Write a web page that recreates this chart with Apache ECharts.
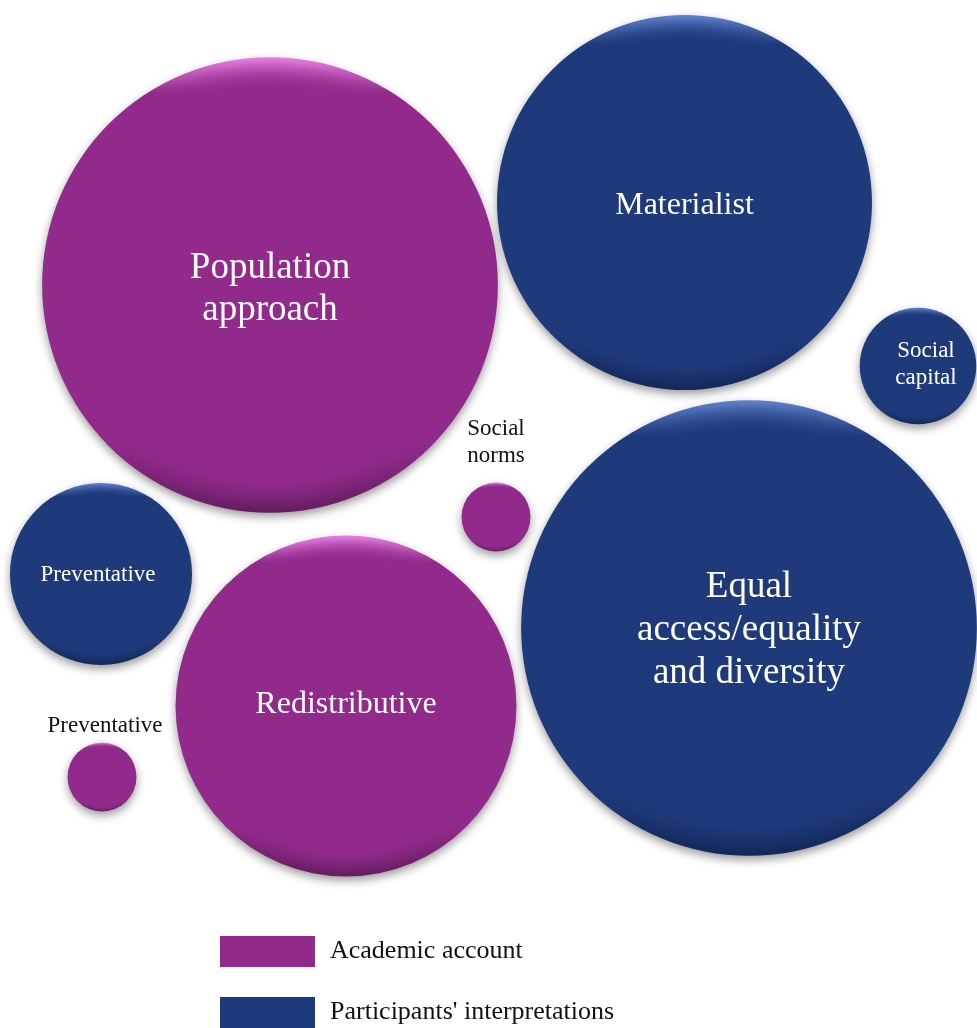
<!DOCTYPE html>
<html><head><meta charset="utf-8">
<script src="https://cdn.jsdelivr.net/npm/echarts@6/dist/echarts.min.js"></script>
<style>html,body{margin:0;padding:0;background:#fff}#c{width:977px;height:1028px}</style>
</head><body><div id="c"></div>
<script>
// Data (x, y in chart units; value = bubble area measure)
const academicNames = ['Population\napproach', 'Redistributive', 'Social\nnorms', 'Preventative'];
const academicX = [27.0, 34.6, 49.6, 10.2];
const academicY = [74.3, 32.2, 51.1, 25.1];
const academicValues = [52, 29.1, 1.19, 1.19];

const participantNames = ['Materialist', 'Equal\naccess/equality\nand diversity', 'Preventative', 'Social\ncapital'];
const participantX = [68.45, 74.9, 10.1, 91.8];
const participantY = [82.55, 40.0, 45.4, 66.2];
const participantValues = [35.2, 52, 8.3, 3.4];

const legendNames = ['Academic account', "Participants' interpretations"];

// Styles (kept separate from data)
const SERIF = 'Liberation Serif, Times New Roman, serif';
const academicLabelStyle = [
  {fontSize: 37, lineHeight: 42, color: '#fff', position: 'inside', offset: [0, 4]},
  {fontSize: 32, color: '#fff', position: 'inside', offset: [0, -1]},
  {fontSize: 23, lineHeight: 27, color: '#111', position: 'top', distance: 14},
  {fontSize: 23, color: '#111', position: 'top', distance: 6, offset: [3, 0]}
];
const participantLabelStyle = [
  {fontSize: 32, color: '#fff', position: 'inside', offset: [0, 3]},
  {fontSize: 37, lineHeight: 43, color: '#fff', position: 'inside', offset: [0, 2]},
  {fontSize: 23, color: '#fff', position: 'inside', offset: [-3, 1]},
  {fontSize: 23, lineHeight: 27, color: '#fff', position: 'inside', offset: [8, -2]}
];

const K = 63.2; // diameter per sqrt(value)
const sizeFn = v => K * Math.sqrt(v[2]);

function baseFill(light, main, dark) {
  return new echarts.graphic.LinearGradient(0, 0, 0, 1, [
    {offset: 0, color: light}, {offset: 0.08, color: main},
    {offset: 0.85, color: main}, {offset: 1, color: dark}
  ]);
}
function overlayFill(main, mainT) {
  return new echarts.graphic.RadialGradient(0.5, 0.5, 0.5, [
    {offset: 0, color: main}, {offset: 0.88, color: main},
    {offset: 1, color: mainT}
  ]);
}

const PURPLE = '#912a8b', PURPLE_T = 'rgba(145,42,139,0)';
const BLUE = '#1f3a7b', BLUE_T = 'rgba(31,58,123,0)';

function mkData(names, xs, ys, vals, styles) {
  return names.map((n, i) => ({
    name: n, value: [xs[i], ys[i], vals[i]],
    label: Object.assign({show: true, formatter: '{b}', fontFamily: SERIF, align: 'center'}, styles[i])
  }));
}
function mkPlain(names, xs, ys, vals) {
  return names.map((n, i) => ({name: n, value: [xs[i], ys[i], vals[i]]}));
}

const legendText = {fontSize: 26, fontFamily: SERIF, color: '#111', padding: [0, 0, 0, 10]};

const chart = echarts.init(document.getElementById('c'), null, {renderer: 'canvas'});
chart.setOption({
  animation: false,
  grid: {left: 0, right: 0, top: 0, bottom: 0},
  xAxis: {type: 'value', min: 0, max: 97.7, show: false},
  yAxis: {type: 'value', min: 0, max: 102.8, show: false},
  legend: [
    {left: 215, top: 931, itemWidth: 95, itemHeight: 31, icon: 'rect', selectedMode: false, textStyle: legendText,
     data: [{name: legendNames[0], itemStyle: {color: PURPLE, shadowBlur: 0, shadowOffsetY: 0}}]},
    {left: 215, top: 992, itemWidth: 95, itemHeight: 31, icon: 'rect', selectedMode: false, textStyle: legendText,
     data: [{name: legendNames[1], itemStyle: {color: BLUE, shadowBlur: 0, shadowOffsetY: 0}}]}
  ],
  series: [
    {
      name: legendNames[0], type: 'scatter', symbolSize: sizeFn,
      data: mkPlain(academicNames, academicX, academicY, academicValues),
      itemStyle: {color: baseFill('#e57ee0', PURPLE, '#641d60'), shadowColor: 'rgba(0,0,0,0.4)', shadowBlur: 10, shadowOffsetY: 4, opacity: 1},
      z: 2
    },
    {
      name: legendNames[1], type: 'scatter', symbolSize: sizeFn,
      data: mkPlain(participantNames, participantX, participantY, participantValues),
      itemStyle: {color: baseFill('#5f80cc', BLUE, '#13285a'), shadowColor: 'rgba(0,0,0,0.4)', shadowBlur: 10, shadowOffsetY: 4, opacity: 1},
      z: 2
    },
    {
      name: 'a-overlay', type: 'scatter', symbolSize: v => sizeFn(v) * 0.985, silent: true,
      data: mkData(academicNames, academicX, academicY, academicValues, academicLabelStyle),
      itemStyle: {color: overlayFill(PURPLE, PURPLE_T), opacity: 1}, z: 3
    },
    {
      name: 'p-overlay', type: 'scatter', symbolSize: v => sizeFn(v) * 0.985, silent: true,
      data: mkData(participantNames, participantX, participantY, participantValues, participantLabelStyle),
      itemStyle: {color: overlayFill(BLUE, BLUE_T), opacity: 1}, z: 3
    }
  ]
});
</script></body></html>
